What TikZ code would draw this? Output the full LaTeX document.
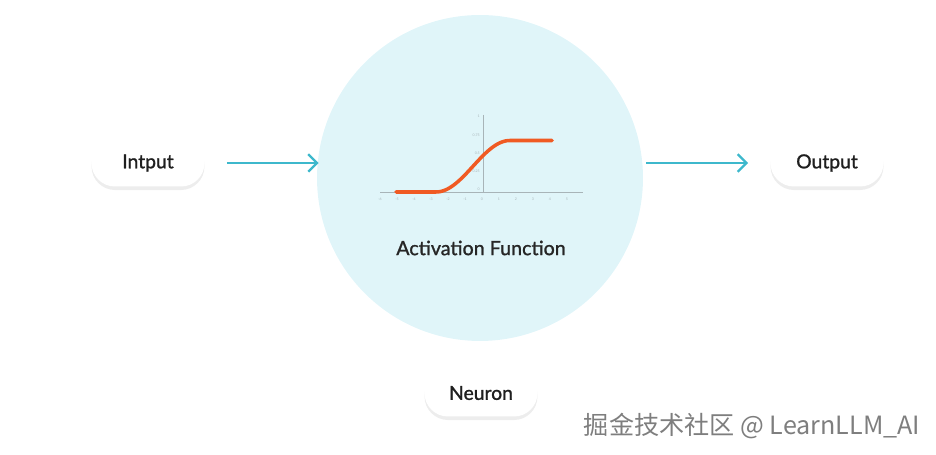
\documentclass[tikz,border=0pt]{standalone}
\usepackage{fontspec}
\usepackage{tikz}
\usetikzlibrary{arrows.meta, positioning, shadows}
\newfontfamily\latofont{Lato}[FakeBold=1.2]
\newfontfamily\latothin{Lato}
\newfontfamily\cjk{Noto Sans CJK SC}
\definecolor{cellcolor}{HTML}{E0F5F9}
\definecolor{arrowcolor}{HTML}{3DB8CC}
\definecolor{curvecolor}{HTML}{F05A23}
\definecolor{axiscolor}{HTML}{A8B4B8}
\definecolor{markcolor}{HTML}{7E7E7E}

\begin{document}
\begin{tikzpicture}[
    x=0.02cm, y=-0.02cm,
    pill/.style={rectangle, rounded corners=0.47cm, fill=white, minimum width=2.26cm,
                 minimum height=0.94cm, font=\latofont\fontsize{11}{13}\selectfont,
                 text=black!88,
                 drop shadow={opacity=0.14, shadow xshift=0pt, shadow yshift=-2pt}},
    flow/.style={draw=arrowcolor, line width=1.3pt, -{Straight Barb[length=5pt, width=10pt]}},
    ticklabel/.style={font=\latothin\fontsize{2}{2}\selectfont, text=axiscolor, inner sep=0pt},
]
\useasboundingbox (0,0) rectangle (936,455);

% Neuron body
\node[circle, fill=cellcolor, minimum size=6.52cm, inner sep=0pt] (cell) at (480,178) {};

% Inputs and outputs
\node[pill] (in) at (148,163) {Intput};
\node[pill] (out) at (827,163) {Output};
\node[pill] (neuron) at (481,393) {Neuron};

% Connectors
\draw[flow, shorten <=0.44cm, shorten >=-0.04cm] (in.east) -- (cell.west |- in.east);
\draw[flow, shorten <=0.06cm, shorten >=0.44cm] (cell.east |- out.west) -- (out.west);

% Sigmoid plot
\draw[axiscolor, line width=0.4pt] (380,192) -- (583,192);
\draw[axiscolor, line width=0.4pt] (483,115) -- (483,192);
\foreach \v [count=\i from 0] in {-6,-5,-4,-3,-2,-1,0,1,2,3,4,5}
    \node[ticklabel] at (380+17*\i,199) {\v};
\foreach \v/\y in {1/116, 0.75/135, 0.5/153, 0.25/171, 0/189}
    \node[ticklabel, anchor=east] at (480,\y) {\v};
\draw[curvecolor, line width=2pt, line cap=round, line join=round]
    (396,192) -- (436,192)
    plot[smooth, domain=436:510, samples=40] (\x, {192-51.5*(1-cos(180*(\x-436)/74))/2})
    -- (552,140.5);

% Label
\node[font=\latofont\fontsize{11.2}{14}\selectfont, text=black!85] (act) at (481,248) {Activation Function};

% Watermark
\node[font=\cjk\fontsize{14.3}{16}\selectfont, text=markcolor] (mark) at (752,426) {掘金技术社区 @ LearnLLM\_AI};

\end{tikzpicture}
\end{document}
